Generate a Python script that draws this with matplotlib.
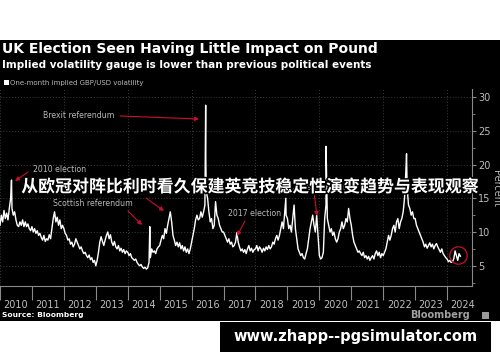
import matplotlib
matplotlib.use("Agg")
import matplotlib.pyplot as plt
import matplotlib.patheffects as pe
from matplotlib.patches import Rectangle
import numpy as np

# ---------------- data (semi-monthly readings, percent) ----------------
start_year = 2010
v2010 = [11.0, 12.5, 11.5, 13.2, 12.0, 12.8, 11.8, 13.5, 15.0, 13.5, 12.5, 13.0,
         11.8, 11.0, 10.8, 11.5, 11.0, 11.8, 10.8, 11.5, 10.8, 11.2, 10.5, 10.2]
v2011 = [10.8, 10.0, 10.5, 9.8, 10.2, 9.5, 9.8, 9.2, 8.8, 9.5, 8.6, 9.0,
         8.8, 9.6, 9.0, 10.5, 12.0, 13.0, 11.5, 12.2, 11.0, 11.8, 10.5, 11.0]
v2012 = [10.5, 9.8, 9.5, 8.8, 9.0, 8.2, 8.5, 7.8, 8.2, 9.0, 8.5, 8.0,
         7.5, 7.8, 7.2, 6.8, 7.0, 6.5, 6.2, 6.6, 5.9, 6.2, 5.5, 5.8]
v2013 = [5.0, 5.8, 7.0, 8.5, 9.3, 8.6, 8.0, 8.8, 9.5, 10.0, 9.0, 9.6,
         8.5, 8.0, 8.6, 7.8, 7.5, 8.0, 7.2, 7.6, 7.0, 7.4, 6.8, 7.2]
v2014 = [7.0, 6.5, 6.8, 6.2, 6.0, 5.8, 6.0, 5.5, 5.2, 5.0, 5.2, 4.8,
         4.6, 4.8, 4.5, 4.7, 5.5, 6.2, 7.5, 7.0, 7.2, 6.8, 7.5, 7.8]
v2015 = [8.0, 8.8, 9.5, 9.0, 10.5, 9.8, 11.0, 12.0, 13.0, 11.5, 9.5, 8.8,
         8.0, 8.5, 7.8, 8.4, 7.5, 8.0, 7.2, 7.8, 7.0, 7.5, 6.8, 7.5]
v2016 = [8.5, 9.5, 10.5, 11.8, 12.5, 11.8, 12.0, 13.0, 12.2, 13.0, 14.0, 16.0,
         15.0, 13.0, 11.5, 12.0, 10.5, 11.0, 14.5, 12.5, 12.0, 11.0, 10.5, 10.0]
v2017 = [10.0, 9.5, 9.0, 8.5, 9.0, 8.2, 8.5, 7.8, 8.0, 8.5, 9.9, 8.5,
         7.8, 7.2, 7.5, 7.0, 7.4, 6.8, 7.5, 8.0, 7.2, 7.6, 7.0, 7.4]
v2018 = [7.5, 8.0, 7.2, 7.8, 7.5, 7.0, 7.6, 7.2, 7.8, 7.4, 8.0, 7.5,
         7.8, 8.5, 8.2, 9.0, 9.5, 8.8, 9.5, 10.5, 11.5, 10.5, 13.0, 12.5]
v2019 = [12.0, 10.5, 11.0, 10.0, 12.0, 14.0, 10.5, 9.0, 7.5, 7.0, 6.5, 6.8,
         6.2, 6.0, 6.8, 7.5, 9.0, 10.5, 11.5, 12.5, 11.0, 10.0, 12.5, 9.5]
v2020 = [6.5, 6.0, 6.2, 7.0, 12.0, 14.0, 12.0, 11.0, 10.0, 10.5, 9.5, 10.0,
         9.0, 8.5, 9.0, 10.0, 10.5, 11.5, 10.5, 11.0, 12.0, 11.5, 13.5, 12.0]
v2021 = [11.0, 9.5, 8.5, 8.0, 7.5, 7.0, 7.2, 6.8, 6.5, 7.0, 6.2, 6.5,
         6.0, 6.4, 5.8, 6.2, 6.5, 6.0, 6.8, 7.2, 6.5, 7.0, 6.2, 6.8]
v2022 = [6.5, 7.0, 7.5, 8.5, 9.5, 8.8, 9.5, 10.5, 11.0, 10.0, 11.5, 12.0,
         10.5, 11.5, 12.0, 13.0, 15.0, 19.0, 16.5, 14.0, 13.5, 12.5, 13.0, 12.0]
v2023 = [12.0, 11.0, 10.5, 10.0, 9.5, 9.0, 8.5, 7.8, 8.2, 7.6, 8.0, 8.4,
         7.8, 8.2, 7.5, 8.0, 8.3, 7.8, 7.4, 7.0, 7.5, 6.8, 6.5, 6.2]
v2024 = [6.0, 5.6, 5.8, 5.5, 5.6, 6.0, 7.2, 6.5, 5.8, 6.8, 6.4]

# event spikes (date as decimal year, value)
spike_dates = [2010.36, 2014.69, 2016.44, 2016.445, 2018.95, 2020.21, 2022.73]
spike_values = [17.7, 10.8, 28.8, 21.0, 15.0, 22.7, 21.6]

year_labels = [str(y) for y in range(2010, 2025)]
y_ticks = [5, 10, 15, 20, 25, 30]

# ---------------- assemble series ----------------
all_vals = (v2010 + v2011 + v2012 + v2013 + v2014 + v2015 + v2016 + v2017 +
            v2018 + v2019 + v2020 + v2021 + v2022 + v2023 + v2024)
grid_dates = [start_year + i / 24 for i in range(len(all_vals))]
dates = np.array(grid_dates + spike_dates)
vals = np.array(all_vals + spike_values)
order = np.argsort(dates)
dates, vals = dates[order], vals[order]

# ---------------- figure ----------------
W, H = 500, 362
fig = plt.figure(figsize=(5, 3.62), dpi=100, facecolor="white")

def fy(py):
    return (H - py) / H

# black panel
fig.patches.append(Rectangle((0, fy(321)), 1, fy(40) - fy(321), transform=fig.transFigure,
                             facecolor="black", edgecolor="none", zorder=-5))
# watermark box
fig.patches.append(Rectangle((220 / W, fy(352)), (491 - 220) / W, fy(322) - fy(352),
                             transform=fig.transFigure, facecolor="black",
                             edgecolor="none", zorder=-5))

ax = fig.add_axes([0.0, fy(286), 472 / W, fy(89) - fy(286)])
ax.set_zorder(1)
ax.set_facecolor("black")
ax.set_xlim(2010.0, 2024.78)
ax.set_ylim(2.0, 31.2)

ax.plot(dates, vals, color="white", lw=1.0, zorder=3)

# grid
for yr in range(2010, 2025, 2):
    ax.axvline(yr, ls=(0, (1, 2)), color="#3c3c3c", lw=0.7, zorder=1)
for yv in y_ticks:
    ax.axhline(yv, ls=(0, (1, 2)), color="#3c3c3c", lw=0.7, zorder=1)

# spines
for s in ["top", "left"]:
    ax.spines[s].set_visible(False)
for s in ["right", "bottom"]:
    ax.spines[s].set_color("#8a8a8a")
    ax.spines[s].set_linewidth(0.8)

ax.yaxis.tick_right()
ax.set_yticks(y_ticks)
ax.set_yticklabels([str(v) for v in y_ticks])
ax.set_yticks([2.5, 7.5, 12.5, 17.5, 22.5, 27.5], minor=True)
ax.tick_params(axis="y", which="major", colors="#8a8a8a", labelcolor="#bdbdbd",
               labelsize=7, length=3, width=0.8, pad=1.5)
ax.tick_params(axis="y", which="minor", colors="#8a8a8a", length=2, width=0.6)

ax.set_xticks(list(range(2010, 2025)))
ax.set_xticklabels([])
ax.set_xticks([y + 0.5 for y in range(2010, 2025)], minor=True)
ax.set_xticklabels(year_labels, minor=True)
ax.tick_params(axis="x", which="major", colors="#8a8a8a", length=10, width=0.8)
ax.tick_params(axis="x", which="minor", length=0, labelcolor="#bdbdbd",
               labelsize=7, pad=10)

# annotations
red = "#c8102e"
tc = "#b8b8b8"
def note(text, xy_text, xy_from, xy_to):
    fig.text(xy_text[0] / W, fy(xy_text[1]), text, color=tc, fontsize=5.6,
             ha="left", va="center", zorder=2)
    fig.add_artist(matplotlib.patches.FancyArrowPatch(
        (xy_from[0] / W, fy(xy_from[1])), (xy_to[0] / W, fy(xy_to[1])),
        transform=fig.transFigure, arrowstyle="-|>", color=red, lw=0.8,
        mutation_scale=6, shrinkA=0, shrinkB=0, zorder=5))

note("Brexit referendum", (43, 115), (120, 116), (199, 119))
note("2010 election", (33, 170), (28, 172), (15, 181))
note("2015 election", (88, 184), (146, 198), (164, 211))
note("Scottish referendum", (53, 203), (128, 211), (142, 225))
note("2017 election", (228, 214), (245, 221), (237, 236))
note("2019 election", (292, 187), (314, 192), (317, 216))

# circle around latest reading
ax.plot([2024.34], [6.6], marker="o", ms=12.5, mfc="none", mec=red, mew=0.9, zorder=4)

# titles
fig.text(2 / W, fy(49), "UK Election Seen Having Little Impact on Pound",
         color="white", fontsize=10.0, fontweight="bold", ha="left", va="center")
fig.text(2 / W, fy(65), "Implied volatility gauge is lower than previous political events",
         color="white", fontsize=7.5, fontweight="bold", ha="left", va="center")
fig.patches.append(Rectangle((4 / W, fy(85)), 4.5 / W, 4.5 / H, transform=fig.transFigure,
                             facecolor="white", edgecolor="none", zorder=5))
fig.text(10 / W, fy(82.5), "One-month implied GBP/USD volatility", color=tc,
         fontsize=5, ha="left", va="center")
fig.text(496 / W, fy(188), "Percent", color=tc, fontsize=7, rotation=270,
         ha="center", va="center")

fig.text(2 / W, fy(315), "Source: Bloomberg", color="white", fontsize=5.4,
         fontweight="bold", ha="left", va="center")
fig.text(470 / W, fy(315), "Bloomberg", color="#a0a0a0", fontsize=7,
         fontweight="bold", ha="right", va="center")
fig.patches.append(Rectangle((482 / W, fy(319)), 7 / W, 7 / H, transform=fig.transFigure,
                             facecolor="#9a9a9a", edgecolor="none", zorder=5))

# overlay caption
fig.text(249 / W, fy(187), "从欧冠对阵比利时看久保建英竞技稳定性演变趋势与表现观察",
         color="white", fontsize=12.2, fontweight="bold", ha="center", va="center",
         family=["Noto Sans CJK SC", "DejaVu Sans"], zorder=10,
         path_effects=[pe.withStroke(linewidth=2.2, foreground="black")])

# watermark
fig.text(356 / W, fy(337), "www.zhapp--pgsimulator.com", color="white", fontsize=10.5,
         fontweight="bold", ha="center", va="center")

fig.savefig("out.png", dpi=100, facecolor="white")
